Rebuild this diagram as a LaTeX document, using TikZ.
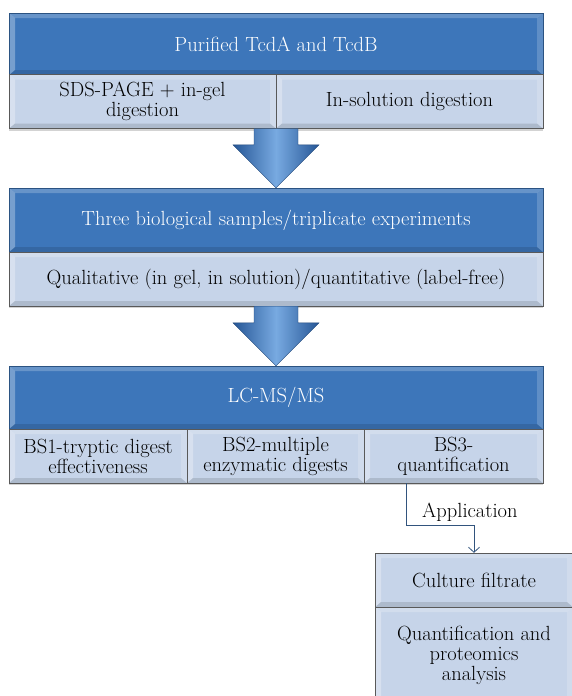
\documentclass[tikz,border=0pt]{standalone}
\usepackage{tikz}
\usetikzlibrary{calc,arrows.meta,shadows}

\definecolor{boxblue}{RGB}{61,118,186}
\definecolor{boxlight}{RGB}{198,212,233}
\definecolor{arrowdark}{RGB}{38,86,150}
\definecolor{arrowlight}{RGB}{120,170,225}
\definecolor{linkblue}{RGB}{50,84,125}

\tikzset{
	bevel/.style={path picture={
		\path (path picture bounding box.north west) coordinate (bNW)
			(path picture bounding box.north east) coordinate (bNE)
			(path picture bounding box.south west) coordinate (bSW)
			(path picture bounding box.south east) coordinate (bSE)
			([shift={(6pt,-5pt)}]bNW) coordinate (iNW)
			([shift={(-6pt,-5pt)}]bNE) coordinate (iNE)
			([shift={(6pt,5pt)}]bSW) coordinate (iSW)
			([shift={(-6pt,5pt)}]bSE) coordinate (iSE);
		\fill[white,opacity=.22] (bNW) -- (bNE) -- (iNE) -- (iNW) -- cycle;
		\fill[white,opacity=.30] (bNW) -- (iNW) -- (iSW) -- (bSW) -- cycle;
		\fill[black,opacity=.12] (bSW) -- (iSW) -- (iSE) -- (bSE) -- cycle;
		\fill[white,opacity=.18] (bNE) -- (bSE) -- (iSE) -- (iNE) -- cycle;
	}},
	headbox/.style={rectangle, fill=boxblue, draw=boxblue!70!black, text=white,
		minimum width=534pt, inner sep=2pt, align=center, bevel},
	subbox/.style={rectangle, fill=boxlight, draw=gray!70!black, text=black,
		minimum height=54pt, inner sep=2pt, align=center, bevel,
		drop shadow={shadow xshift=0pt, shadow yshift=-2pt, opacity=.35}},
	every node/.style={font=\fontsize{20.5}{20}\selectfont},
}

% block arrow from the bottom of #1 down to the top of #2
\newcommand{\blockarrow}[2]{%
	\path (#2.north) coordinate (tb) (tb |- #1.south) coordinate (ta);
	\shade[left color=arrowdark, right color=arrowdark, middle color=arrowlight, draw=arrowdark!80!black]
		($(ta)+(-22,0)$) -- ($(ta)+(22,0)$) -- ($(tb)+(22,-43)$) -- ($(tb)+(43,-43)$)
		-- (tb) -- ($(tb)+(-43,-43)$) -- ($(tb)+(-22,-43)$) -- cycle;
}

\begin{document}
\begin{tikzpicture}[x=1pt,y=-1pt]
	\useasboundingbox (0,0) rectangle (572,696);

	% first stage
	\node[headbox, minimum height=62pt] (purified) at (276,44) {Purified TcdA and TcdB};
	\node[subbox, minimum width=267pt] (ingel) at (142.5,101.5) {SDS-PAGE + in-gel\\digestion};
	\node[subbox, minimum width=267pt] (insol) at (409.5,101.5) {In-solution digestion};

	% second stage
	\node[headbox, minimum height=64pt] (samples) at (276,220) {Three biological samples/triplicate experiments};
	\node[subbox, minimum width=534pt] (qual) at (276,279) {Qualitative (in gel, in solution)/quantitative (label-free)};

	% third stage
	\node[headbox, minimum height=63pt] (lcms) at (276,397.5) {LC-MS/MS};
	\node[subbox, minimum width=178pt] (bs1) at (98,456) {BS1-tryptic digest\\effectiveness};
	\node[subbox, minimum width=177pt] (bs2) at (275.5,456) {BS2-multiple\\enzymatic digests};
	\node[subbox, minimum width=179pt] (bs3) at (453.5,456) {BS3-\\quantification};

	% application
	\node[subbox, minimum width=198pt] (filtrate) at (474,580) {Culture filtrate};
	\node[subbox, minimum width=198pt, minimum height=96pt] (proteomics) at (474,655) {Quantification and\\proteomics\\analysis};

	\blockarrow{ingel}{samples}
	\blockarrow{qual}{lcms}

	\draw[linkblue, line width=.8pt, -{Straight Barb[length=5pt,width=11pt]}]
		([xshift=-47.5pt]bs3.south) -- ++(0,42) -| (filtrate.north)
		node[pos=.47, above, text=black, inner sep=3pt] {Application};
\end{tikzpicture}
\end{document}
